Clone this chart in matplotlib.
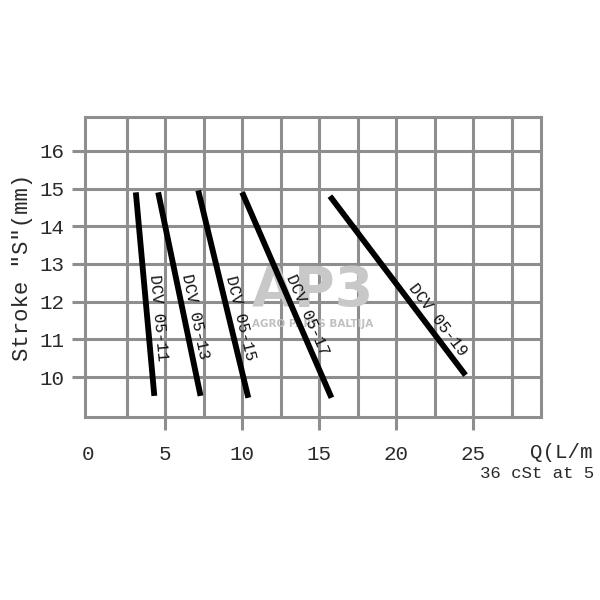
import numpy as np
import matplotlib.pyplot as plt

# valve curves: start and end of each line (Q in L/min, stroke in mm)
valves = ["DCV 05-11", "DCV 05-13", "DCV 05-15", "DCV 05-17", "DCV 05-19"]
q_start = [3.1, 4.55, 7.15, 10.0, 15.7]
q_end = [4.3, 7.3, 10.4, 15.8, 24.5]
s_start = [14.9, 14.9, 14.95, 14.9, 14.8]
s_end = [9.5, 9.5, 9.45, 9.45, 10.05]

x_ticks = [0, 5, 10, 15, 20, 25]
y_ticks = [10, 11, 12, 13, 14, 15, 16]

grid_col = "#8e8e8e"
mono = "Liberation Mono"

fig = plt.figure(figsize=(6, 6), dpi=100)
ax = fig.add_axes([85 / 600, 1 - 417 / 600, 456 / 600, 300 / 600])
ax.set_xlim(-0.2, 29.4)
ax.set_ylim(8.94, 16.9)

ax.set_xticks(x_ticks)
ax.set_xticks(np.arange(2.5, 28, 5), minor=True)
ax.set_yticks(y_ticks)
ax.grid(True, which="both", color=grid_col, lw=2.2)
ax.set_axisbelow(True)
for sp in ax.spines.values():
    sp.set_color(grid_col)
    sp.set_linewidth(2.2)

ax.tick_params(which="major", length=9.5, width=2.2, color=grid_col,
               labelsize=15, labelcolor="#2a2a2a")
ax.tick_params(which="minor", length=0)
ax.tick_params(axis="x", pad=11)
ax.tick_params(axis="y", pad=5)
t0 = ax.xaxis.get_major_ticks()[0]
t0.tick1line.set_visible(False)
t0.gridline.set_visible(False)
for lab in ax.get_xticklabels() + ax.get_yticklabels():
    lab.set_family(mono)

ax.set_ylabel('Stroke "S"(mm)', family=mono, fontsize=16, color="#2a2a2a",
              labelpad=5)

# watermark
ax.text(0.5, 0.42, "AP3", transform=ax.transAxes, ha="center", va="center",
        fontsize=40, fontweight="bold", color="#c8c8c8", zorder=1.5)
ax.text(0.5, 0.31, "AGRO PARTS BALTIJA", transform=ax.transAxes, ha="center",
        va="center", fontsize=7.5, fontweight="bold", color="#c0c0c0", zorder=1.5)

fracs = [0.62, 0.62, 0.63, 0.62, 0.73]
for i, name in enumerate(valves):
    ax.plot([q_start[i], q_end[i]], [s_start[i], s_end[i]], color="black",
            lw=4.2, solid_capstyle="butt", zorder=3)
    p0 = ax.transData.transform((q_start[i], s_start[i]))
    p1 = ax.transData.transform((q_end[i], s_end[i]))
    d = p1 - p0
    ang = np.degrees(np.arctan2(d[1], d[0]))
    n = np.array([-d[1], d[0]]) / np.hypot(*d)
    f = fracs[i]
    xm = q_start[i] + f * (q_end[i] - q_start[i])
    ym = s_start[i] + f * (s_end[i] - s_start[i])
    ax.annotate(name, (xm, ym), xytext=(n[0] * 8, n[1] * 8),
                textcoords="offset points", rotation=ang,
                rotation_mode="anchor", ha="center", va="center",
                family=mono, fontsize=11.5, color="#111111", zorder=4)

fig.text(530 / 600, 1 - 453 / 600, "Q(L/m", family=mono, fontsize=15,
         color="#2a2a2a", ha="left", va="center")
fig.text(480 / 600, 1 - 474 / 600, "36 cSt at 5", family=mono, fontsize=12.5,
         color="#2a2a2a", ha="left", va="center")

fig.savefig("out.png", dpi=100)
